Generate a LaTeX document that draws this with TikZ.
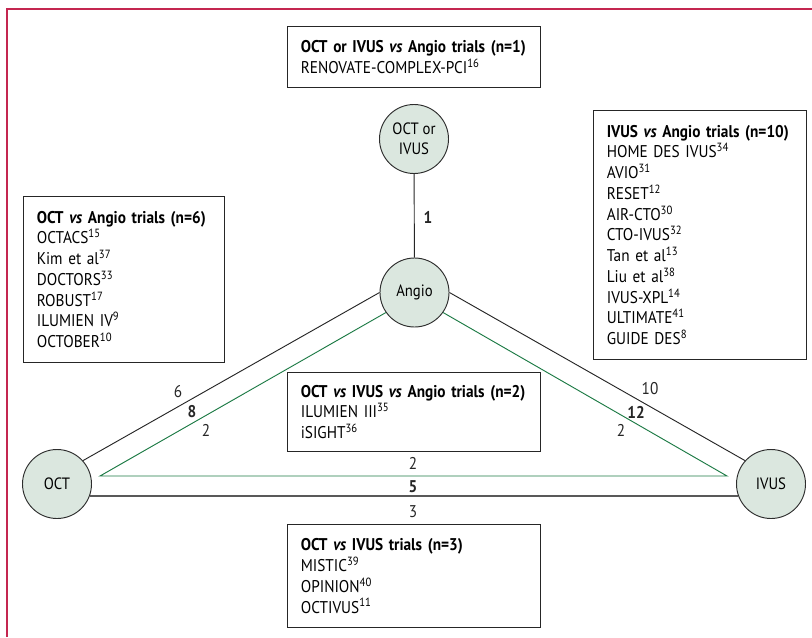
\documentclass[tikz,border=0pt]{standalone}
\usepackage{fontspec}
\setmainfont{PT Sans}[FakeStretch=0.9]
\usepackage{tikz}
\usetikzlibrary{positioning,backgrounds}
\definecolor{armfill}{RGB}{219,231,223}
\definecolor{armdraw}{RGB}{45,45,45}
\definecolor{triogreen}{RGB}{28,122,68}
\definecolor{framered}{RGB}{196,38,80}
\tikzset{
  arm/.style={
    circle,
    draw=armdraw,
    fill=armfill,
    line width=0.8pt,
    minimum size=2.07cm,
    inner sep=0pt,
    align=center,
    font=\fontsize{14}{17}\selectfont
  },
  trialbox/.style={
    rectangle,
    draw=black!85,
    line width=0.8pt,
    anchor=north west,
    align=left,
    inner xsep=0.4cm,
    inner ysep=0pt,
    font=\fontsize{14.5}{17.7}\selectfont
  },
  link/.style={
    line width=0.8pt,
    draw=black!85
  },
  headtohead/.style={
    line width=1.4pt,
    draw=black!65
  },
  trio/.style={
    line width=0.8pt,
    draw=triogreen
  },
  count/.style={
    font=\fontsize{14.5}{16}\selectfont,
    text=black!85,
    inner sep=1pt
  },
  total/.style={
    font=\fontsize{14.5}{16}\selectfont\bfseries,
    text=black!85,
    inner sep=1pt
  },
  framebar/.style={
    line width=1.6pt,
    draw=framered
  }
}
\newcommand{\trialvs}{\textit{vs}}

\begin{document}
\begin{tikzpicture}[x=0.03cm, y=-0.03cm]
  \useasboundingbox (0,0) rectangle (812,637);

  % page frame
  \draw[framebar] (7.3,637) -- (7.3,9.3) -- (812,9.3);

  % ------------------------------------------------------------------
  % Arms of the network
  % ------------------------------------------------------------------
  \node[arm] (OCTIVUS) at (414,139) {OCT or\\IVUS};
  \node[arm] (Angio)   at (414.5,292.5) {Angio};
  \node[arm] (OCT)     at (57,484) {OCT};
  \node[arm] (IVUS)    at (771,484) {IVUS};

  % corners of the three-arm triangle
  \coordinate (gL) at (100,476);
  \coordinate (gR) at (727,476);

  % ------------------------------------------------------------------
  % Connections
  % ------------------------------------------------------------------
  \draw[link] (OCTIVUS) -- (Angio);
  \draw[link] (OCT.42) -- (Angio.180);
  \draw[link] (Angio.0) -- (IVUS.138);
  \draw[headtohead] (OCT.-20) -- (IVUS.200);
  \draw[trio] (Angio.215) -- (gL) -- (gR) -- (Angio.325);

  % numbers of trials on each connection
  \node[total] (nTop)   at (428,217) {1};
  \node[count] (nL6)    at (178,392) {6};
  \node[total] (nL8)    at (192,412) {8};
  \node[count] (nL2)    at (206,430) {2};
  \node[count] (nR10)   at (650,389) {10};
  \node[total] (nR12)   at (636,412) {12};
  \node[count] (nR2)    at (621,430) {2};
  \node[count] (nB2)    at (413,463) {2};
  \node[total] (nB5)    at (413,487) {5};
  \node[count] (nB3)    at (413,512) {3};

  % ------------------------------------------------------------------
  % Trial lists
  % ------------------------------------------------------------------
  \node[trialbox, text width=6.79cm, minimum height=1.83cm] (boxOI) at (287,26)
    {\textbf{OCT or IVUS \trialvs{} Angio trials (n=1)}\\
     RENOVATE-COMPLEX-PCI\textsuperscript{16}};

  \node[trialbox, text width=5.23cm, minimum height=4.98cm] (boxOA) at (23,196)
    {\textbf{OCT \trialvs{} Angio trials (n=6)}\\
     OCTACS\textsuperscript{15}\\
     Kim et al\textsuperscript{37}\\
     DOCTORS\textsuperscript{33}\\
     ROBUST\textsuperscript{17}\\
     ILUMIEN IV\textsuperscript{9}\\
     OCTOBER\textsuperscript{10}};

  \node[trialbox, text width=5.59cm, minimum height=7.47cm] (boxIA) at (593,110)
    {\textbf{IVUS \trialvs{} Angio trials (n=10)}\\
     HOME DES IVUS\textsuperscript{34}\\
     AVIO\textsuperscript{31}\\
     RESET\textsuperscript{12}\\
     AIR-CTO\textsuperscript{30}\\
     CTO-IVUS\textsuperscript{32}\\
     Tan et al\textsuperscript{13}\\
     Liu et al\textsuperscript{38}\\
     IVUS-XPL\textsuperscript{14}\\
     ULTIMATE\textsuperscript{41}\\
     GUIDE DES\textsuperscript{8}};

  \node[trialbox, text width=6.79cm, minimum height=2.37cm] (boxAll) at (287,372)
    {\textbf{OCT \trialvs{} IVUS \trialvs{} Angio trials (n=2)}\\
     ILUMIEN III\textsuperscript{35}\\
     iSIGHT\textsuperscript{36}};

  \node[trialbox, text width=6.79cm, minimum height=3.09cm] (boxOV) at (287,524)
    {\textbf{OCT \trialvs{} IVUS trials (n=3)}\\
     MISTIC\textsuperscript{39}\\
     OPINION\textsuperscript{40}\\
     OCTIVUS\textsuperscript{11}};
\end{tikzpicture}
\end{document}
